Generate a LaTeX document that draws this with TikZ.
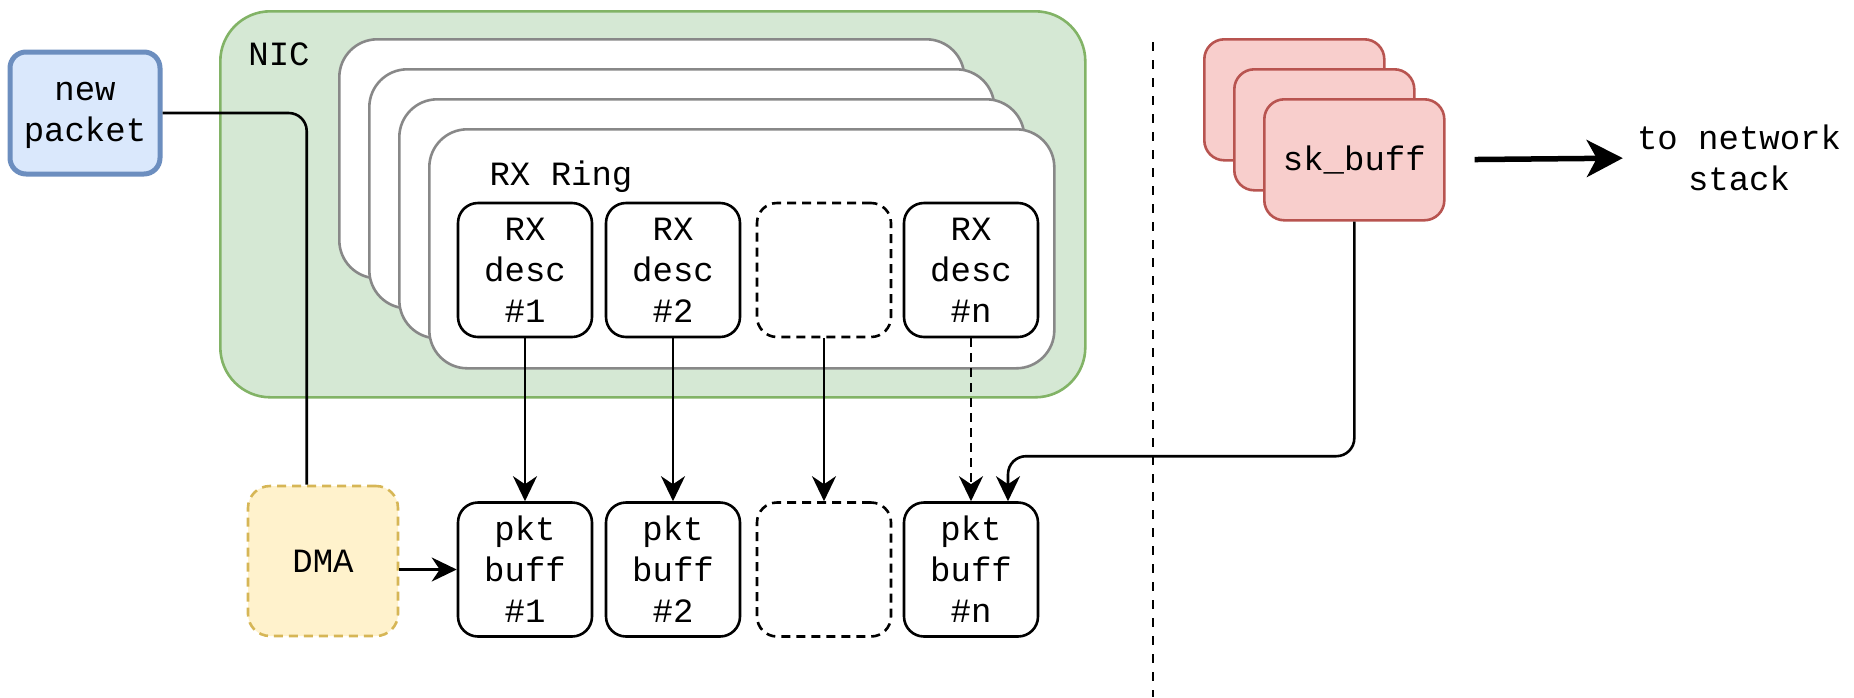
\documentclass[tikz,border=0pt]{standalone}
\usepackage{fontspec}
\newfontfamily\diamono{Liberation Mono}
\usetikzlibrary{arrows.meta,calc}
\definecolor{nicfill}{HTML}{D5E8D4}
\definecolor{nicdraw}{HTML}{82B366}
\definecolor{newfill}{HTML}{DAE8FC}
\definecolor{newdraw}{HTML}{6C8EBF}
\definecolor{dmafill}{HTML}{FFF2CC}
\definecolor{dmadraw}{HTML}{D6B656}
\definecolor{skbfill}{HTML}{F8CECC}
\definecolor{skbdraw}{HTML}{B85450}
\definecolor{ringdraw}{HTML}{888888}
\begin{document}
\begin{tikzpicture}[x=1pt,y=-1pt,
  txt/.style={font=\diamono\fontsize{34}{41}\selectfont, align=center, inner sep=0pt},
  box/.style={txt, draw=black, fill=white, line width=2.6pt, rounded corners=20pt, minimum width=134pt, minimum height=134pt},
  emptybox/.style={box, dash pattern=on 9pt off 6pt},
  ring/.style={draw=ringdraw, fill=white, line width=2.6pt, rounded corners=38pt, minimum width=625pt, minimum height=239pt, anchor=north west, inner sep=0pt},
  skb/.style={txt, draw=skbdraw, fill=skbfill, line width=2.6pt, rounded corners=20pt, minimum width=180pt, minimum height=121pt, anchor=north west},
  arr/.style={line width=2.6pt, -{Stealth[length=25pt,width=24pt,inset=8pt]}},
  conn/.style={line width=2.6pt},
  bigarr/.style={line width=5.5pt, -{Stealth[length=36pt,width=37pt,inset=10pt]}},
]
\useasboundingbox (0,0) rectangle (1854,697);
% NIC
\node[draw=nicdraw, fill=nicfill, line width=2.6pt, rounded corners=50pt, minimum width=865pt, minimum height=386pt, anchor=north west, inner sep=0pt] (nic) at (219,10) {};
\node[txt, anchor=base] (niclabel) at (279,65) {NIC};
% ring stack
\node[ring] (ring1) at (338,38) {};
\node[ring] (ring2) at (368,68) {};
\node[ring] (ring3) at (398,98) {};
\node[ring] (ring4) at (428,128) {};
\node[txt, anchor=base] (ringlabel) at (561,185) {RX Ring};
% descriptors
\node[box] (desc1) at (525,270) {RX\\desc\\\#1};
\node[box] (desc2) at (673,270) {RX\\desc\\\#2};
\node[emptybox] (desce) at (824,270) {};
\node[box] (descn) at (971,270) {RX\\desc\\\#n};
% packet buffers
\node[box] (pkt1) at (525,569.5) {pkt\\buff\\\#1};
\node[box] (pkt2) at (673,569.5) {pkt\\buff\\\#2};
\node[emptybox] (pkte) at (824,569.5) {};
\node[box] (pktn) at (971,569.5) {pkt\\buff\\\#n};
% new packet
\node[txt, draw=newdraw, fill=newfill, line width=5pt, rounded corners=16pt, minimum width=150pt, minimum height=122pt] (newp) at (85,113) {\strut new\\packet\strut};
% DMA
\node[txt, draw=dmadraw, fill=dmafill, line width=2.6pt, rounded corners=22pt, minimum width=150pt, minimum height=150pt, dash pattern=on 9pt off 6pt] (dma) at (323,561) {DMA};
% sk_buff stack
\node[skb] (skb1) at (1203,38) {};
\node[skb] (skb2) at (1233,68) {};
\node[skb] (skb3) at (1263,98) {sk\_buff};
\node[txt] (tonet) at (1739,158) {to network\\stack};
% separator
\coordinate (sepTop) at (1153,42);
\coordinate (sepBot) at (1153,697);
\draw[line width=2.6pt, dash pattern=on 9pt off 9pt] (sepTop) -- (sepBot);
% connectors
\draw[conn, rounded corners=18pt] (newp.east) -| ($(dma.north west)+(60,0)$);
\draw[arr] (dma.east |- pkt1.west) -- (pkt1.west);
\draw[arr] (desc1) -- (pkt1);
\draw[arr] (desc2) -- (pkt2);
\draw[arr] (desce) -- (pkte);
\draw[arr, dash pattern=on 9pt off 6pt] (descn) -- (pktn);
\draw[arr, rounded corners=18pt] (skb3.south) |- ($(pktn.north)+(37,-45)$) -- ($(pktn.north)+(37,0)$);
\draw[bigarr, shorten <=29pt, shorten >=14pt] (skb3.east) -- (tonet.west);
\end{tikzpicture}
\end{document}
